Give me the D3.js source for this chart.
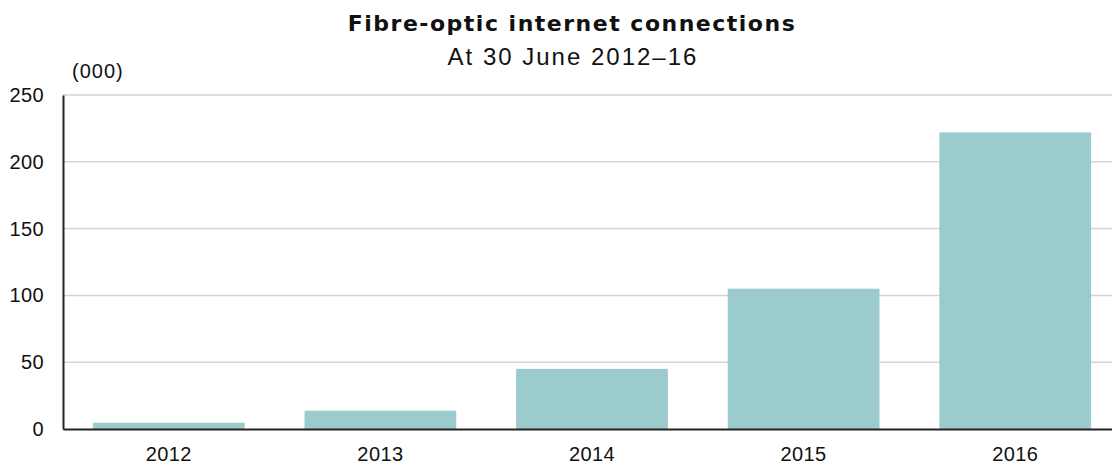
<!DOCTYPE html>
<html>
<head>
<meta charset="utf-8">
<script src="https://cdn.jsdelivr.net/npm/d3@7"></script>
<style>
  body { margin: 0; background: #fff; }
  svg { display: block; font-family: "Liberation Sans", Arial, sans-serif; }
</style>
</head>
<body>
<svg width="1112" height="464"></svg>
<script>
const years = ["2012", "2013", "2014", "2015", "2016"]
const connections = [4.7, 13.7, 45, 105, 222]
const yTicks = [0, 50, 100, 150, 200, 250]

const margin = { top: 95, right: 0, left: 63, bottom: 35 }
const svg = d3.select("svg")
const width = +svg.attr("width")
const height = +svg.attr("height")
const graphHeight = height - margin.top - margin.bottom

const data = years.map((year, i) => ({ year, value: connections[i] }))

const x = d3
	.scaleBand()
	.domain(years)
	.range([0, 1058])
	.paddingInner(0.283)
	.paddingOuter(0.1415)

const y = d3.scaleLinear().domain([0, 250]).range([graphHeight, 0])

svg.append("text")
	.attr("x", 572)
	.attr("y", 31)
	.attr("text-anchor", "middle")
	.attr("font-family", "DejaVu Sans, Verdana, sans-serif")
	.attr("font-size", 22)
	.attr("font-weight", "bold")
	.attr("letter-spacing", 1.5)
	.attr("fill", "#111")
	.text("Fibre-optic internet connections")

svg.append("text")
	.attr("x", 573)
	.attr("y", 65)
	.attr("text-anchor", "middle")
	.attr("font-size", 24)
	.attr("letter-spacing", 2)
	.attr("fill", "#111")
	.text("At 30 June 2012–16")

svg.append("text")
	.attr("x", 72)
	.attr("y", 78)
	.attr("font-size", 20)
	.attr("letter-spacing", 1)
	.attr("fill", "#111")
	.text("(000)")

const graph = svg
	.append("g")
	.attr("transform", `translate(${margin.left}, ${margin.top})`)

// gridlines
graph.append("g")
	.selectAll("line")
	.data(yTicks.filter((t) => t > 0))
	.enter()
	.append("line")
	.attr("x1", 0)
	.attr("x2", width - margin.left)
	.attr("y1", (d) => y(d))
	.attr("y2", (d) => y(d))
	.attr("stroke", "#d3d3d3")
	.attr("stroke-width", 1.5)

graph.selectAll("rect")
	.data(data)
	.enter()
	.append("rect")
	.attr("x", (d) => x(d.year))
	.attr("y", (d) => y(d.value))
	.attr("width", x.bandwidth())
	.attr("height", (d) => graphHeight - y(d.value))
	.attr("fill", "#9bcbcc")

const yAxis = d3.axisLeft(y).tickValues(yTicks).tickSize(0).tickPadding(19)
const yAxisGroup = graph.append("g").call(yAxis)
yAxisGroup.select(".domain").attr("stroke", "#222").attr("stroke-width", 2)
yAxisGroup.selectAll("text")
	.attr("font-size", 20)
	.attr("font-family", "Liberation Sans, Arial, sans-serif")
	.attr("letter-spacing", 0.4)
	.attr("fill", "#111")

const xAxis = d3.axisBottom(x).tickSize(0).tickPadding(18)
const xAxisGroup = graph.append("g")
	.attr("transform", `translate(0, ${graphHeight})`)
	.call(xAxis)
xAxisGroup.select(".domain").attr("stroke", "#222").attr("stroke-width", 2)
xAxisGroup.selectAll("text")
	.attr("font-size", 20)
	.attr("font-family", "Liberation Sans, Arial, sans-serif")
	.attr("letter-spacing", 0.4)
	.attr("fill", "#111")
</script>
</body>
</html>
